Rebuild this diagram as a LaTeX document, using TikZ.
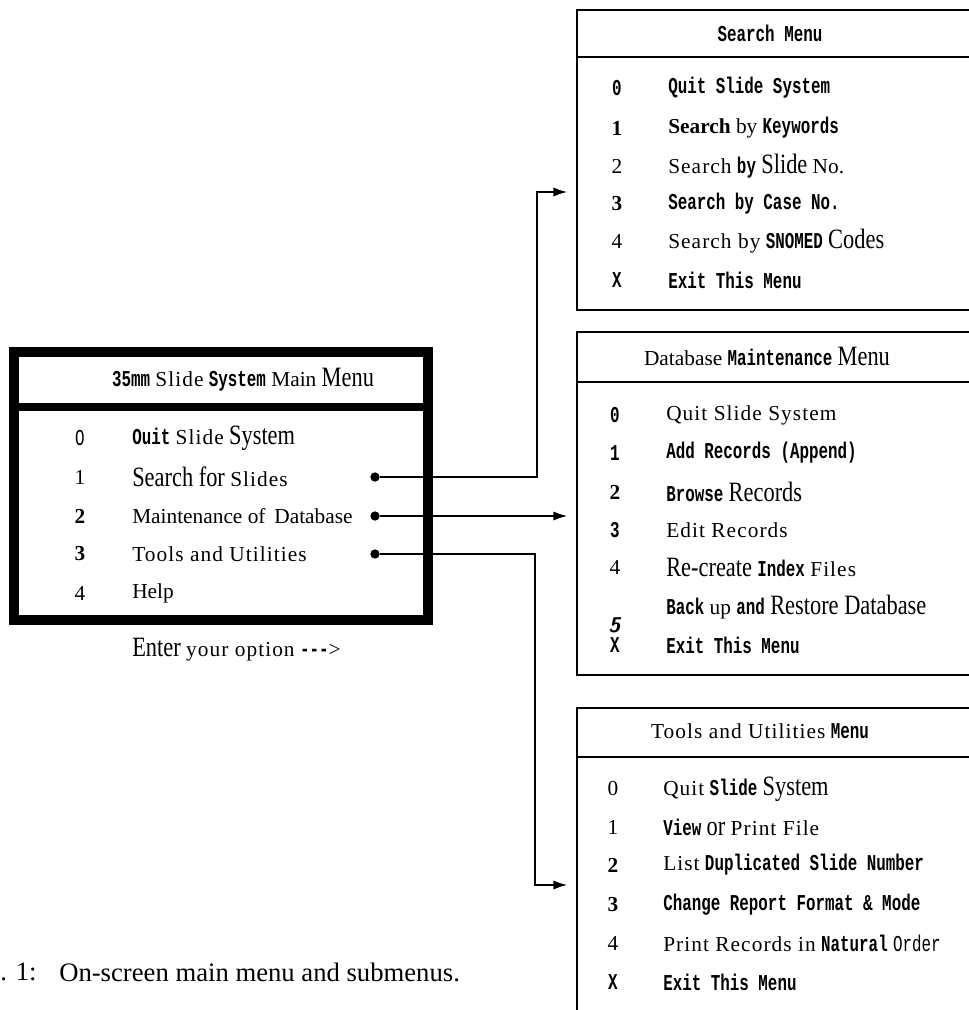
\documentclass[tikz,border=0pt]{standalone}
\usepackage{fontspec}
\usepackage{tikz}
\usetikzlibrary{arrows.meta}
\setmainfont{Liberation Serif}
\newfontfamily\ttbfont[FakeStretch=0.7]{Liberation Mono}
\newfontfamily\spfont[LetterSpace=5]{Liberation Serif}
\newfontfamily\bigfont[FakeStretch=0.8]{Liberation Serif}
\newcommand{\rowfont}{\fontsize{16}{19}\selectfont}
\newcommand{\menutt}[1]{{\ttbfont\fontsize{17}{20}\selectfont\bfseries #1}}
\newcommand{\menusp}[1]{{\spfont #1}}
\newcommand{\menubig}[1]{{\bigfont\fontsize{21}{24}\selectfont #1}}

\begin{document}
\begin{tikzpicture}[x=0.75pt,y=-0.75pt,
  every node/.style={inner sep=0pt,font=\rowfont},
  item/.style={anchor=west},
  num/.style={anchor=center},
  dot/.style={shape=circle,fill=black,minimum size=7pt},
  mainbox/.style={line width=7pt},
  maindiv/.style={line width=6pt},
  subbox/.style={line width=2pt},
  link/.style={line width=2pt,-{Latex[length=11pt,width=7pt]}}]
\useasboundingbox (0,0) rectangle (969,1010);
\clip (0,0) rectangle (969,1010);
%main menu
\draw [mainbox] (14,352) rectangle (428,620);
\draw [maindiv] (14,407) -- (428,407);
\path (243,380) node (mtitle) {\menutt{35mm} \menusp{Slide} \menutt{System} Main \menubig{Menu}};
\path (80,438) node (mn0) [num] {{\ttbfont\fontsize{17}{20}\selectfont O}};
\path (132,438) node (m0) [item] {\menutt{Ouit} \menusp{Slide} \menubig{System}};
\path (80,477) node (mn1) [num] {1};
\path (132,477) node (m1) [item] {\menubig{Search for} \menusp{Slides}};
\path (80,516) node (mn2) [num] {\textbf{2}};
\path (132,516) node (m2) [item] {Maintenance of\, Database};
\path (80,554) node (mn3) [num] {\textbf{3}};
\path (132,554) node (m3) [item] {\menusp{Tools and Utilities}};
\path (80,593) node (mn4) [num] {4};
\path (132,593) node (m4) [item] {Help};
\path (375,477) node (d1) [dot] {};
\path (375,516) node (d2) [dot] {};
\path (375,554) node (d3) [dot] {};
\path (132,650) node (enter) [item] {\menubig{Enter} \menusp{your option} \menutt{---}>};

%search menu
\draw [subbox] (577,10) rectangle (1000,310);
\draw [subbox] (577,57) -- (1000,57);
\path (770,33) node (stitle) {\menutt{Search Menu}};
\path (617,88) node (sn0) [num] {\menutt{0}};
\path (668,88) node (s0) [item] {\menutt{Quit Slide System}};
\path (617,128) node (sn1) [num] {\textbf{1}};
\path (668,128) node (s1) [item] {\textbf{Search} by \menutt{Keywords}};
\path (617,166) node (sn2) [num] {2};
\path (668,166) node (s2) [item] {\menusp{Search} \menutt{by} \menubig{Slide} No.};
\path (617,204) node (sn3) [num] {\textbf{3}};
\path (668,204) node (s3) [item] {\menutt{Search by Case No.}};
\path (617,241) node (sn4) [num] {4};
\path (668,241) node (s4) [item] {\menusp{Search by} \menutt{SNOMED} \menubig{Codes}};
\path (617,280) node (snx) [num] {\menutt{X}};
\path (668,280) node (sx) [item] {\menutt{Exit This Menu}};

%database maintenance menu
\draw [subbox] (577,332) rectangle (1000,675);
\draw [subbox] (577,382) -- (1000,382);
\path (767,356) node (dtitle) {Database \menutt{Maintenance} \menubig{Menu}};
\path (615,415) node (dn0) [num] {\menutt{0}};
\path (666,415) node (db0) [item] {\menusp{Quit Slide System}};
\path (615,453) node (dn1) [num] {\menutt{1}};
\path (666,453) node (db1) [item] {\menutt{Add Records (Append)}};
\path (615,492) node (dn2) [num] {\textbf{2}};
\path (666,492) node (db2) [item] {\menutt{Browse} \menubig{Records}};
\path (615,530) node (dn3) [num] {\menutt{3}};
\path (666,530) node (db3) [item] {\menusp{Edit Records}};
\path (615,567) node (dn4) [num] {4};
\path (666,567) node (db4) [item] {\menubig{Re-create} \menutt{Index} \menusp{Files}};
\path (666,607) node (db5) [item] {\menutt{Back} up \menutt{and} \menubig{Restore Database}};
\path (615,625) node (dn5) [num] {\textbf{\textit{\sffamily 5}}};
\path (615,645) node (dnx) [num] {\menutt{X}};
\path (666,645) node (dbx) [item] {\menutt{Exit This Menu}};

%tools and utilities menu
\draw [subbox] (577,708) rectangle (1000,1040);
\draw [subbox] (577,757) -- (1000,757);
\path (760,731) node (ttitle) {\menusp{Tools and Utilities} \menutt{Menu}};
\path (613,789) node (tn0) [num] {0};
\path (663,789) node (t0) [item] {\menusp{Quit} \menutt{Slide} \menubig{System}};
\path (613,827) node (tn1) [num] {1};
\path (663,827) node (t1) [item] {\menutt{View} \menubig{or} \menusp{Print File}};
\path (613,865) node (tn2) [num] {\textbf{2}};
\path (663,865) node (t2) [item] {\menusp{List} \menutt{Duplicated Slide Number}};
\path (613,905) node (tn3) [num] {\textbf{3}};
\path (663,905) node (t3) [item] {\menutt{Change Report Format \& Mode}};
\path (613,943) node (tn4) [num] {4};
\path (663,943) node (t4) [item] {\menusp{Print Records in} \menutt{Natural} {\ttbfont\fontsize{17}{20}\selectfont Order}};
\path (613,982) node (tnx) [num] {\menutt{X}};
\path (663,982) node (tx) [item] {\menutt{Exit This Menu}};

%caption
\path (0,972) node (capnum) [item] {\fontsize{20}{24}\selectfont . 1:};
\path (59,972) node (captext) [item] {\fontsize{20}{24}\selectfont On-screen main menu and submenus.};

%connectors
\coordinate (k1) at (537,192);
\coordinate (in1) at (568,192);
\coordinate (in2) at (568,516);
\coordinate (k3) at (535,885);
\coordinate (in3) at (568,885);
\draw [link] (d1) -| (k1) -- (in1);
\draw [link] (d2) -- (in2);
\draw [link] (d3) -| (k3) -- (in3);
\end{tikzpicture}
\end{document}
